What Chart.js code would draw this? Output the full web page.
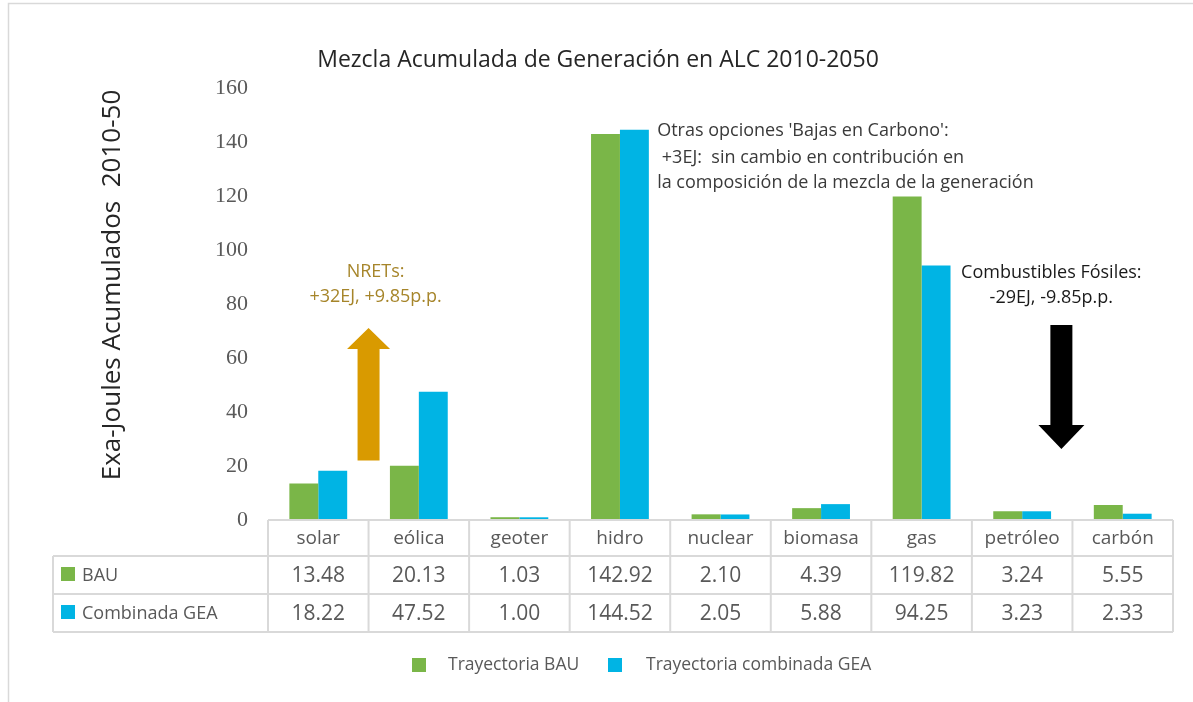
<!DOCTYPE html>
<html>
<head>
<meta charset="utf-8">
<script src="https://cdn.jsdelivr.net/npm/chart.js@4.4.1/dist/chart.umd.min.js"></script>
<style>
  html, body { margin: 0; padding: 0; background: #ffffff; }
  #wrap { width: 1193px; height: 702px; position: relative; }
</style>
</head>
<body>
<div id="wrap"><canvas id="c" width="1193" height="702"></canvas></div>
<script>
// ---- data ----
const categories = ['solar', 'eólica', 'geoter', 'hidro', 'nuclear', 'biomasa', 'gas', 'petróleo', 'carbón'];
const bauValues = [13.48, 20.13, 1.03, 142.92, 2.10, 4.39, 119.82, 3.24, 5.55];
const geaValues = [18.22, 47.52, 1.00, 144.52, 2.05, 5.88, 94.25, 3.23, 2.33];
const tableRowLabels = ['BAU', 'Combinada GEA'];
const legendLabels = ['Trayectoria BAU', 'Trayectoria combinada GEA'];
const yTickMin = 0, yTickMax = 160, yTickStep = 20;
const chartTitle = 'Mezcla Acumulada de Generación en ALC 2010-2050';
const yAxisTitle = 'Exa-Joules Acumulados  2010-50';
const nretsText = ['NRETs:', '+32EJ, +9.85p.p.'];
const otrasText = ["Otras opciones 'Bajas en Carbono':", " +3EJ:  sin cambio en contribución en", "la composición de la mezcla de la generación"];
const fosilText = ['Combustibles Fósiles:', '-29EJ, -9.85p.p.'];

// ---- styles ----
const GREEN = '#7ab648';
const BLUE = '#00b4e4';
const GRID = '#d9d9d9';
const TXT = '#595959';
const SANS = '"Open Sans", "Noto Sans", sans-serif';

function arrow(ctx, x, yFrom, yTo, yHead, shaftW, headW, color) {
  ctx.save();
  ctx.fillStyle = color;
  ctx.beginPath();
  ctx.moveTo(x - shaftW / 2, yFrom);
  ctx.lineTo(x - shaftW / 2, yHead);
  ctx.lineTo(x - headW / 2, yHead);
  ctx.lineTo(x, yTo);
  ctx.lineTo(x + headW / 2, yHead);
  ctx.lineTo(x + shaftW / 2, yHead);
  ctx.lineTo(x + shaftW / 2, yFrom);
  ctx.closePath();
  ctx.fill();
  ctx.restore();
}

const decor = {
  id: 'decor',
  beforeDraw(chart) {
    const ctx = chart.ctx;
    ctx.save();
    ctx.fillStyle = '#ffffff';
    ctx.fillRect(0, 0, chart.width, chart.height);
    // outer frame
    ctx.strokeStyle = GRID;
    ctx.lineWidth = 1.5;
    ctx.beginPath();
    ctx.moveTo(8.5, chart.height);
    ctx.lineTo(8.5, 3.5);
    ctx.lineTo(chart.width, 3.5);
    ctx.stroke();
    ctx.restore();
  },
  afterDraw(chart) {
    const ctx = chart.ctx;
    const xs = chart.scales.x;
    const ys = chart.scales.y;
    const area = chart.chartArea;

    ctx.save();
    // title
    ctx.fillStyle = '#262626';
    ctx.font = '23px ' + SANS;
    ctx.textAlign = 'center';
    ctx.textBaseline = 'middle';
    ctx.fillText(chartTitle, 598, 60);

    // y-axis title
    ctx.save();
    ctx.translate(113, 285);
    ctx.rotate(-Math.PI / 2);
    ctx.fillStyle = '#262626';
    ctx.font = '26px ' + SANS;
    ctx.fillText(yAxisTitle, 0, 0);
    ctx.restore();

    // ---- data table ----
    const tTop = area.bottom;
    const rowH = [36, 38, 38];
    const r1 = tTop + rowH[0];
    const r2 = r1 + rowH[1];
    const r3 = r2 + rowH[2];
    const tLeft = 53;
    ctx.strokeStyle = GRID;
    ctx.lineWidth = 2;
    ctx.beginPath();
    ctx.moveTo(area.left, tTop); ctx.lineTo(area.right, tTop);
    ctx.moveTo(tLeft, r1); ctx.lineTo(area.right, r1);
    ctx.moveTo(tLeft, r2); ctx.lineTo(area.right, r2);
    ctx.moveTo(tLeft, r3); ctx.lineTo(area.right, r3);
    ctx.moveTo(tLeft, r1); ctx.lineTo(tLeft, r3);
    for (let i = 0; i <= categories.length; i++) {
      const x = xs.getPixelForValue(i - 0.5);
      ctx.moveTo(x, tTop); ctx.lineTo(x, r3);
    }
    ctx.stroke();

    ctx.textAlign = 'center';
    ctx.textBaseline = 'middle';
    ctx.fillStyle = TXT;
    ctx.font = '19px ' + SANS;
    categories.forEach((c, i) => {
      ctx.fillText(c, xs.getPixelForValue(i), (tTop + r1) / 2 + 1);
    });
    ctx.font = '21px ' + SANS;
    bauValues.forEach((v, i) => {
      ctx.fillText(v.toFixed(2), xs.getPixelForValue(i), (r1 + r2) / 2 + 1);
    });
    geaValues.forEach((v, i) => {
      ctx.fillText(v.toFixed(2), xs.getPixelForValue(i), (r2 + r3) / 2 + 1);
    });
    // row labels
    ctx.textAlign = 'left';
    ctx.font = '18px ' + SANS;
    const rowCols = [GREEN, BLUE];
    [[r1, r2], [r2, r3]].forEach((rr, k) => {
      const cy = (rr[0] + rr[1]) / 2;
      ctx.fillStyle = rowCols[k];
      ctx.fillRect(61, cy - 8, 14, 14);
      ctx.fillStyle = TXT;
      ctx.fillText(tableRowLabels[k], 82, cy + 1);
    });

    // ---- legend ----
    ctx.font = '17.5px ' + SANS;
    const ly = 665;
    ctx.fillStyle = GREEN;
    ctx.fillRect(412, ly - 7, 14, 14);
    ctx.fillStyle = TXT;
    ctx.fillText(legendLabels[0], 448, ly);
    ctx.fillStyle = BLUE;
    ctx.fillRect(608, ly - 7, 14, 14);
    ctx.fillStyle = TXT;
    ctx.fillText(legendLabels[1], 646, ly);

    // ---- annotations ----
    arrow(ctx, xs.getPixelForValue(0.5), ys.getPixelForValue(22), ys.getPixelForValue(71.1), ys.getPixelForValue(63.3), 22, 43, '#d99a00');
    arrow(ctx, xs.getPixelForValue(7.39), ys.getPixelForValue(72.2), ys.getPixelForValue(26.3), ys.getPixelForValue(35.2), 22, 46, '#000000');

    ctx.font = '18px ' + SANS;
    ctx.textAlign = 'center';
    ctx.fillStyle = '#a6852a';
    ctx.fillText(nretsText[0], xs.getPixelForValue(0.57), ys.getPixelForValue(91.9));
    ctx.fillText(nretsText[1], xs.getPixelForValue(0.57), ys.getPixelForValue(82.6));

    ctx.fillStyle = '#1a1a1a';
    ctx.fillText(fosilText[0], xs.getPixelForValue(7.29), ys.getPixelForValue(91.5));
    ctx.fillText(fosilText[1], xs.getPixelForValue(7.29), ys.getPixelForValue(82.2));

    ctx.textAlign = 'left';
    ctx.fillStyle = '#3a3a3a';
    const oy = [144.2, 134.2, 124.8];
    otrasText.forEach((t, k) => {
      ctx.fillText(t, xs.getPixelForValue(3.37), ys.getPixelForValue(oy[k]));
    });
    ctx.restore();
  }
};

new Chart(document.getElementById('c'), {
  type: 'bar',
  data: {
    labels: categories,
    datasets: [
      { label: legendLabels[0], data: bauValues, backgroundColor: GREEN, borderWidth: 0 },
      { label: legendLabels[1], data: geaValues, backgroundColor: BLUE, borderWidth: 0 }
    ]
  },
  options: {
    responsive: false,
    animation: false,
    devicePixelRatio: 1,
    layout: { padding: { left: 0, right: 20, top: 88, bottom: 182 } },
    datasets: { bar: { categoryPercentage: 0.575, barPercentage: 1.0 } },
    plugins: {
      legend: { display: false },
      title: { display: false },
      tooltip: { enabled: false }
    },
    scales: {
      x: {
        display: false,
        offset: true
      },
      y: {
        min: yTickMin,
        max: yTickMax,
        grid: { display: false, drawTicks: false },
        border: { display: false },
        afterFit(scale) { scale.width = 268; },
        ticks: {
          stepSize: yTickStep,
          padding: 20,
          color: TXT,
          font: { family: '"Liberation Serif", "DejaVu Serif", serif', size: 22 }
        }
      }
    }
  },
  plugins: [decor]
});
</script>
</body>
</html>
